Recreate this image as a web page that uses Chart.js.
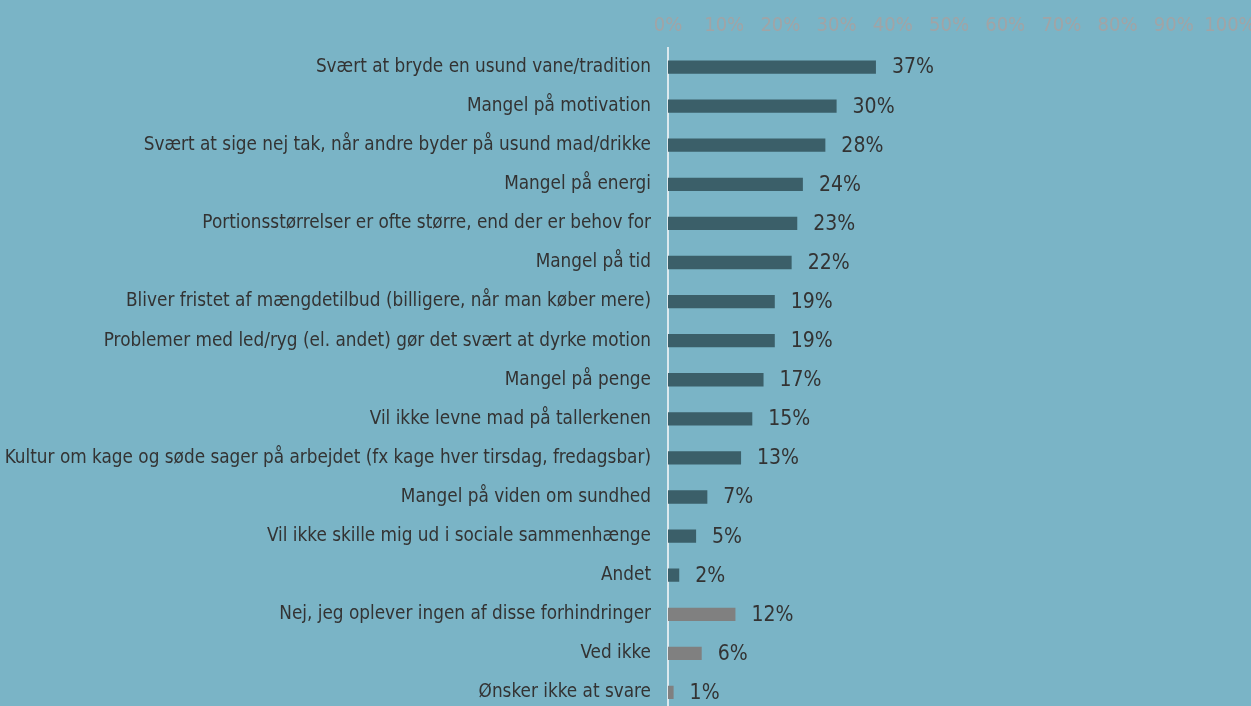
<!DOCTYPE html>
<html lang="da">
  <head>
    <meta charset="UTF-8" />
    <title>Forhindringer</title>
    <style>
      html, body {
        margin: 0;
        padding: 0;
        overflow: hidden;
        background-color: #7ab4c6;
      }
      #chart {
        display: block;
        width: 1251px;
        height: 712px;
      }
    </style>
    <script src="https://cdn.jsdelivr.net/npm/chart.js"></script>
  </head>
  <body>
    <canvas id="chart" width="1251" height="712"></canvas>
    <script>
      const labels = [
        "Svært at bryde en usund vane/tradition",
        "Mangel på motivation",
        "Svært at sige nej tak, når andre byder på usund mad/drikke",
        "Mangel på energi",
        "Portionsstørrelser er ofte større, end der er behov for",
        "Mangel på tid",
        "Bliver fristet af mængdetilbud (billigere, når man køber mere)",
        "Problemer med led/ryg (el. andet) gør det svært at dyrke motion",
        "Mangel på penge",
        "Vil ikke levne mad på tallerkenen",
        "Kultur om kage og søde sager på arbejdet (fx kage hver tirsdag, fredagsbar)",
        "Mangel på viden om sundhed",
        "Vil ikke skille mig ud i sociale sammenhænge",
        "Andet",
        "Nej, jeg oplever ingen af disse forhindringer",
        "Ved ikke",
        "Ønsker ikke at svare",
      ];
      const values = [37, 30, 28, 24, 23, 22, 19, 19, 17, 15, 13, 7, 5, 2, 12, 6, 1];
      // the last three answers are the "no obstacle" group, drawn grey
      const greyFrom = 14;

      const FONT = "'Liberation Sans Narrow', 'DejaVu Sans Condensed', 'Open Sans', sans-serif";
      const colors = values.map((v, i) => (i < greyFrom ? "#3b5f69" : "#808080"));

      // value labels right of each bar
      const valueLabels = {
        id: "valueLabels",
        afterDatasetsDraw(chart) {
          const ctx = chart.ctx;
          const meta = chart.getDatasetMeta(0);
          ctx.save();
          ctx.font = "21px " + FONT;
          ctx.fillStyle = "#333333";
          ctx.textAlign = "left";
          ctx.textBaseline = "middle";
          meta.data.forEach((bar, i) => {
            ctx.fillText(values[i] + "%", bar.x + 16, bar.y + 1);
          });
          ctx.restore();
        },
      };

      const ctx = document.getElementById("chart").getContext("2d");
      const chart = new Chart(ctx, {
        type: "bar",
        data: {
          labels: labels,
          datasets: [
            {
              data: values,
              backgroundColor: colors,
              borderWidth: 0,
              barPercentage: 0.34,
              categoryPercentage: 1,
            },
          ],
        },
        options: {
          indexAxis: "y",
          responsive: false,
          animation: false,
          layout: { padding: { left: 0, right: 21, top: 0, bottom: 0 } },
          plugins: {
            legend: { display: false },
            tooltip: { enabled: false },
          },
          scales: {
            x: {
              position: "top",
              min: 0,
              max: 100,
              grid: { display: false, drawTicks: false },
              border: { display: false },
              ticks: {
                stepSize: 10,
                autoSkip: false,
                minRotation: 0,
                maxRotation: 0,
                color: "#a1a4a6",
                font: { family: FONT, size: 20 },
                padding: 10,
                callback: (v) => v + "%",
              },
              afterFit: (scale) => {
                scale.height = 47.5;
                scale.paddingLeft = 0;
                scale.paddingRight = 0;
              },
            },
            y: {
              grid: { display: false, drawTicks: false },
              border: { display: true, color: "#dce9ee", width: 2 },
              ticks: {
                autoSkip: false,
                color: "#333333",
                font: { family: FONT, size: 18.8 },
                padding: 17,
              },
              afterFit: (scale) => {
                scale.width = 668;
                scale.paddingTop = 0;
                scale.paddingBottom = 0;
              },
            },
          },
        },
        plugins: [valueLabels],
      });
    </script>
  </body>
</html>
